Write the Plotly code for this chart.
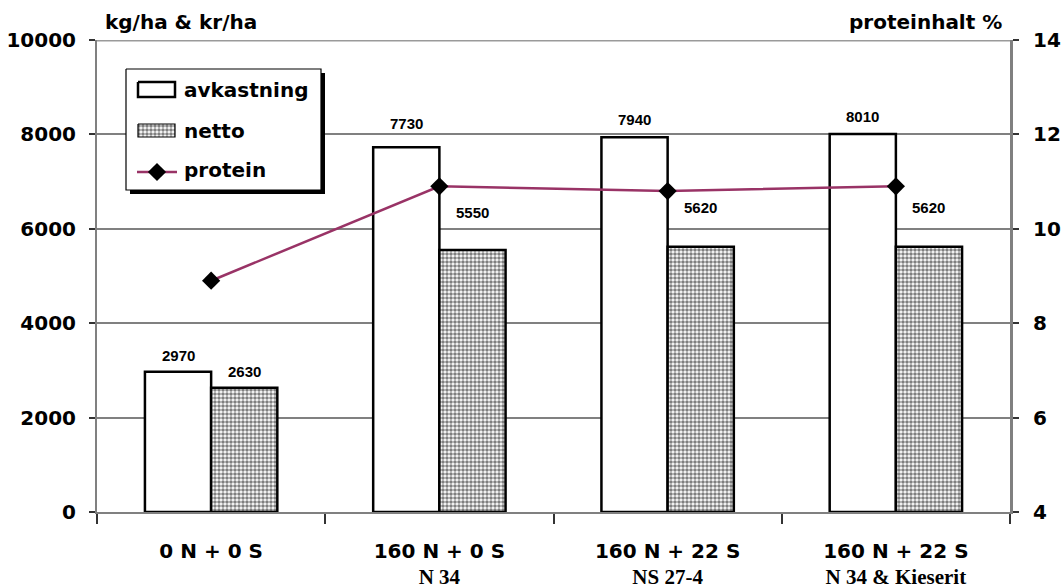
import plotly.graph_objects as go

# Yield trial: fertiliser treatments
categories = ["0 N + 0 S", "160 N + 0 S", "160 N + 22 S", "160 N + 22 S"]
fertilizers = ["", "N 34", "NS 27-4", "N 34 & Kieserit"]
avkastning = [2970, 7730, 7940, 8010]   # kg/ha
netto = [2630, 5550, 5620, 5620]        # kr/ha
protein = [8.9, 10.9, 10.8, 10.9]       # proteinhalt %

# pixel lift of each value label above its bar
avk_label_lift = [16, 24, 18, 17]
netto_label_lift = [16, 38, 39, 39]

W, H = 1064, 588
L, R, T, B = 97, 54, 40, 76
BIG = dict(family="DejaVu Sans", size=20, color="black", weight="bold")
SMALL = dict(family="Liberation Sans, Arial", size=15, color="black", weight="bold")
GRID = "#808080"
PROTEIN_COLOR = "#993366"
CHECKER = dict(shape=".", fgcolor="black", bgcolor="white", size=4, solidity=0.62)

x_labels = []
for c, f in zip(categories, fertilizers):
    if f:
        x_labels.append(
            f"{c}<br><span style='font-family:Liberation Serif;font-size:21px'>{f}</span>"
        )
    else:
        x_labels.append(c)

fig = go.Figure()

fig.add_trace(go.Bar(
    x=x_labels, y=avkastning, name="avkastning",
    marker=dict(color="white", line=dict(color="black", width=2.5)),
    showlegend=False,
))
fig.add_trace(go.Bar(
    x=x_labels, y=netto, name="netto",
    marker=dict(color="white", pattern=CHECKER, line=dict(color="black", width=2.5)),
    showlegend=False,
))
fig.add_trace(go.Scatter(
    x=x_labels, y=protein, name="protein", yaxis="y2", mode="lines+markers",
    line=dict(color=PROTEIN_COLOR, width=2.5),
    marker=dict(symbol="diamond", size=14, color="black"),
    showlegend=False,
))

# value labels above the bars
annotations = []
for xl, v, lift in zip(x_labels, avkastning, avk_label_lift):
    annotations.append(dict(x=xl, y=v, xref="x", yref="y", text=str(v), showarrow=False,
                            xshift=-33, yshift=lift, font=SMALL, yanchor="middle"))
for xl, v, lift in zip(x_labels, netto, netto_label_lift):
    annotations.append(dict(x=xl, y=v, xref="x", yref="y", text=str(v), showarrow=False,
                            xshift=33, yshift=lift, font=SMALL, yanchor="middle"))

# axis titles above the plot area
title_y = (H - B - 22) / (H - T - B)
annotations.append(dict(x=(103 - L) / (W - L - R), y=title_y, xref="paper", yref="paper",
                        text="kg/ha & kr/ha", showarrow=False,
                        xanchor="left", yanchor="middle", font=BIG))
annotations.append(dict(x=(1004 - L) / (W - L - R), y=title_y, xref="paper", yref="paper",
                        text="proteinhalt %", showarrow=False,
                        xanchor="right", yanchor="middle", font=BIG))

# legend drawn in pixel coordinates on an overlay subplot
def px_rect(x0, y0, x1, y1):
    return [x0, x1, x1, x0, x0], [y0, y0, y1, y1, y0]

lx0, ly0, lx1, ly1 = 126, 69, 321, 190
sx, sy = px_rect(lx0 + 4, ly0 + 4, lx1 + 4, ly1 + 4)
fig.add_trace(go.Scatter(x=sx, y=sy, xaxis="x3", yaxis="y3", mode="lines", fill="toself",
                         fillcolor="black", line=dict(color="black", width=0),
                         hoverinfo="skip", showlegend=False))
bx, by = px_rect(lx0, ly0, lx1, ly1)
fig.add_trace(go.Scatter(x=bx, y=by, xaxis="x3", yaxis="y3", mode="lines", fill="toself",
                         fillcolor="white", line=dict(color="black", width=1.2),
                         hoverinfo="skip", showlegend=False))
ax, ay = px_rect(138, 82, 175, 97)
fig.add_trace(go.Scatter(x=ax, y=ay, xaxis="x3", yaxis="y3", mode="lines", fill="toself",
                         fillcolor="white", line=dict(color="black", width=2.5),
                         hoverinfo="skip", showlegend=False))
nx, ny = px_rect(138, 124, 175, 137)
fig.add_trace(go.Scatter(x=nx, y=ny, xaxis="x3", yaxis="y3", mode="lines", fill="toself",
                         fillcolor="white", fillpattern=CHECKER,
                         line=dict(color="black", width=1.2),
                         hoverinfo="skip", showlegend=False))
fig.add_trace(go.Scatter(x=[137, 157, 177], y=[172, 172, 172], xaxis="x3", yaxis="y3",
                         mode="lines", line=dict(color=PROTEIN_COLOR, width=2.5),
                         hoverinfo="skip", showlegend=False))
fig.add_trace(go.Scatter(x=[157], y=[172], xaxis="x3", yaxis="y3", mode="markers",
                         marker=dict(symbol="diamond", size=14, color="black"),
                         hoverinfo="skip", showlegend=False))
for text, ty in [("avkastning", 90), ("netto", 131), ("protein", 170)]:
    annotations.append(dict(x=182, y=ty, xref="x3", yref="y3", text=text, showarrow=False,
                            xanchor="left", yanchor="middle", font=BIG))

shapes = [dict(type="line", xref="paper", yref="y", x0=0, x1=1, y0=10000, y1=10000,
               line=dict(color="#9a9a9a", width=3), layer="below")]

fig.update_layout(
    width=W, height=H,
    margin=dict(l=L, r=R, t=T, b=B, pad=0, autoexpand=False),
    paper_bgcolor="white", plot_bgcolor="white",
    barmode="group", bargap=0.42, bargroupgap=0,
    showlegend=False,
    annotations=annotations,
    shapes=shapes,
    xaxis=dict(
        type="category", tickson="boundaries", ticks="outside", ticklen=10,
        tickcolor="#333333", tickwidth=1.5, showline=True, linecolor=GRID, linewidth=2,
        tickfont=BIG, showgrid=False, zeroline=False, ticklabelstandoff=20,
        automargin=False,
    ),
    yaxis=dict(
        range=[0, 10000], tickvals=[0, 2000, 4000, 6000, 8000, 10000], tickformat="d",
        ticks="outside", ticklen=6, tickcolor="#333333", tickwidth=1.5,
        showline=True, linecolor=GRID, linewidth=2,
        showgrid=True, gridcolor=GRID, gridwidth=1.5, zeroline=False,
        tickfont=BIG, ticklabelstandoff=9, automargin=False,
    ),
    yaxis2=dict(
        range=[4, 14], tickvals=[4, 6, 8, 10, 12, 14], overlaying="y", side="right",
        ticks="outside", ticklen=6, tickcolor="#333333", tickwidth=1.5,
        showline=True, linecolor=GRID, linewidth=3, showgrid=False, zeroline=False,
        tickfont=BIG, ticklabelstandoff=10, automargin=False,
    ),
    xaxis3=dict(range=[L, W - R], overlaying="x", anchor="y3", visible=False,
                fixedrange=True, automargin=False),
    yaxis3=dict(range=[H - B, T], overlaying="y", anchor="x3", visible=False,
                fixedrange=True, automargin=False),
)

fig.write_html("out.html")
